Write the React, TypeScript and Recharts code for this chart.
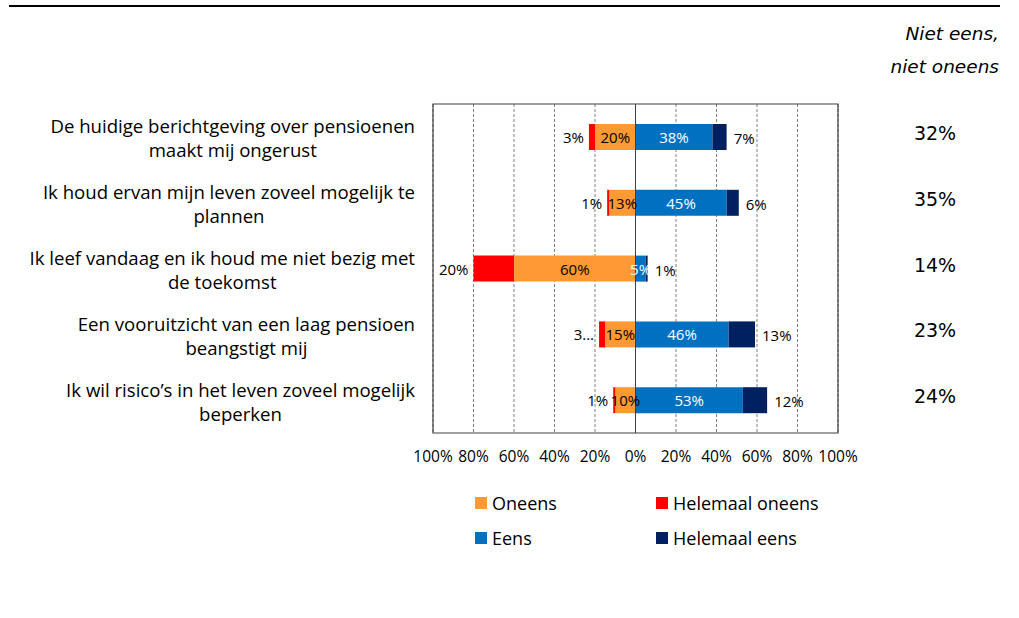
import React from 'react';
import {
  BarChart, Bar, XAxis, YAxis, CartesianGrid, ReferenceLine, ReferenceArea, LabelList, Legend,
} from 'recharts';

const categories: string[][] = [
  ['De huidige berichtgeving over pensioenen', 'maakt mij ongerust'],
  ['Ik houd ervan mijn leven zoveel mogelijk te', 'plannen'],
  ['Ik leef vandaag en ik houd me niet bezig met', 'de toekomst'],
  ['Een vooruitzicht van een laag pensioen', 'beangstigt mij'],
  ['Ik wil risico’s in het leven zoveel mogelijk', 'beperken'],
];
const oneens = [20, 13, 60, 15, 10];
const helemaalOneens = [3, 1, 20, 3, 1];
const helemaalOneensLabels = ['3%', '1%', '20%', '3...', '1%'];
const eens = [38, 45, 5, 46, 53];
const helemaalEens = [7, 6, 1, 13, 12];
const neutraal = ['32%', '35%', '14%', '23%', '24%'];
const xTicks = [-100, -80, -60, -40, -20, 0, 20, 40, 60, 80, 100];

const COLORS = {
  oneens: '#FF9933',
  helemaalOneens: '#FF0000',
  eens: '#0070C0',
  helemaalEens: '#002060',
};

const data = categories.map((c, i) => ({
  name: String(i),
  oneens: -oneens[i],
  helemaalOneens: -helemaalOneens[i],
  eens: eens[i],
  helemaalEens: helemaalEens[i],
}));

const FONT = '"Open Sans", sans-serif';
const CAT_SIZE = 18.6;

let ctx: CanvasRenderingContext2D | null = null;
function measure(text: string, font: string) {
  if (!ctx) ctx = document.createElement('canvas').getContext('2d');
  if (!ctx) return text.length * 9;
  ctx.font = font;
  return ctx.measureText(text).width;
}

const LeftTick = (props: any) => {
  const { x, y, payload } = props;
  const idx = Number(payload.value);
  const lines = categories[idx];
  const right = x - 10;
  const fontSpec = `${CAT_SIZE}px "Open Sans"`;
  const widths = lines.map((l) => measure(l, fontSpec));
  const maxW = Math.max(...widths);
  const center = right - maxW / 2;
  return (
    <g>
      {lines.map((l, k) => (
        <text key={k} x={center} y={y - 11 + k * 24} textAnchor="middle" dominantBaseline="central"
          fontFamily={FONT} fontSize={CAT_SIZE} fill="#000">{l}</text>
      ))}
    </g>
  );
};

const RightTick = (props: any) => {
  const { x, y, payload } = props;
  const idx = Number(payload.value);
  return (
    <text x={x + 89} y={y - 4} textAnchor="middle" dominantBaseline="central"
      fontFamily='"DejaVu Sans", Verdana, sans-serif' fontSize={19} fill="#000">{neutraal[idx]}</text>
  );
};

const centerLabel = (color: string) => (props: any) => {
  const { x, y, width, height, value } = props;
  const cx = x + width / 2;
  return (
    <text x={cx} y={y + height / 2} textAnchor="middle" dominantBaseline="central"
      fontFamily={FONT} fontSize={15} fill={color}>{Math.abs(value)}%</text>
  );
};

const leftLabel = (props: any) => {
  const { x, y, width, height, index } = props;
  const minX = Math.min(x, x + width);
  return (
    <text x={minX - 5} y={y + height / 2} textAnchor="end" dominantBaseline="central"
      fontFamily={FONT} fontSize={15} fill="#000">{helemaalOneensLabels[index]}</text>
  );
};

const rightLabel = (props: any) => {
  const { x, y, width, height, value } = props;
  const maxX = Math.max(x, x + width);
  return (
    <text x={maxX + 7} y={y + height / 2 + 1} textAnchor="start" dominantBaseline="central"
      fontFamily={FONT} fontSize={15} fill="#000">{Math.abs(value)}%</text>
  );
};

const legendItems = [
  { key: 'oneens', label: 'Oneens' },
  { key: 'helemaalOneens', label: 'Helemaal oneens' },
  { key: 'eens', label: 'Eens' },
  { key: 'helemaalEens', label: 'Helemaal eens' },
];

const renderLegend = () => (
  <div style={{ display: 'grid', gridTemplateColumns: '181px 200px', rowGap: 13, fontFamily: FONT, fontSize: 18, color: '#000' }}>
    {legendItems.map((it) => (
      <div key={it.key} style={{ display: 'flex', alignItems: 'center', height: 22 }}>
        <span style={{ display: 'inline-block', width: 12, height: 12, background: (COLORS as any)[it.key], marginRight: 5 }} />
        <span>{it.label}</span>
      </div>
    ))}
  </div>
);

export default function App() {
  return (
    <div style={{ position: 'absolute', left: 0, top: 0, width: 1019, height: 618, background: '#fff', overflow: 'hidden' }}>
      <div style={{ position: 'absolute', left: 9, top: 5, width: 991, height: 2, background: '#000' }} />
      <div style={{ position: 'absolute', right: 20, top: 17, textAlign: 'right', fontFamily: '"DejaVu Sans", Verdana, sans-serif', fontStyle: 'italic', fontSize: 18.5, lineHeight: '33px', color: '#000' }}>
        Niet eens,<br />niet oneens
      </div>
      <BarChart
        width={1019}
        height={618}
        data={data}
        layout="vertical"
        stackOffset="sign"
        barSize={26}
        margin={{ top: 104, right: 0, bottom: 155, left: 0 }}
        style={{ position: 'absolute', left: 0, top: 0 }}
      >
        <CartesianGrid horizontal={false} stroke="#808080" strokeDasharray="3 2" />
        <XAxis type="number" domain={[-100, 100]} ticks={xTicks} tickFormatter={(v: number) => `${Math.abs(v)}%`}
          axisLine={false} tickLine={false} height={30} tickMargin={12}
          tick={{ fontFamily: FONT, fontSize: 15.5, fill: '#000' }} interval={0} />
        <YAxis type="category" dataKey="name" yAxisId="left" width={433} axisLine={false} tickLine={false} tick={<LeftTick />} interval={0} />
        <YAxis type="category" dataKey="name" yAxisId="right" orientation="right" width={181} axisLine={false} tickLine={false} tick={<RightTick />} interval={0} />
        <Bar dataKey="oneens" name="Oneens" stackId="s" yAxisId="left" fill={COLORS.oneens} isAnimationActive={false}>
          <LabelList dataKey="oneens" content={centerLabel('#000')} />
        </Bar>
        <Bar dataKey="helemaalOneens" name="Helemaal oneens" stackId="s" yAxisId="left" fill={COLORS.helemaalOneens} isAnimationActive={false}>
          <LabelList dataKey="helemaalOneens" content={leftLabel} />
        </Bar>
        <Bar dataKey="eens" name="Eens" stackId="s" yAxisId="left" fill={COLORS.eens} isAnimationActive={false}>
          <LabelList dataKey="eens" content={centerLabel('#fff')} />
        </Bar>
        <Bar dataKey="helemaalEens" name="Helemaal eens" stackId="s" yAxisId="left" fill={COLORS.helemaalEens} isAnimationActive={false}>
          <LabelList dataKey="helemaalEens" content={rightLabel} />
        </Bar>
        <ReferenceLine x={0} yAxisId="left" stroke="#404040" strokeWidth={1} />
        <ReferenceArea x1={-100} x2={100} yAxisId="left" fill="none" stroke="#404040" strokeWidth={1.2} ifOverflow="visible" />
        <Legend content={renderLegend} layout="horizontal" verticalAlign="middle" align="center"
          wrapperStyle={{ position: 'absolute', left: 475, top: 492, width: 400 }} />
      </BarChart>
    </div>
  );
}
